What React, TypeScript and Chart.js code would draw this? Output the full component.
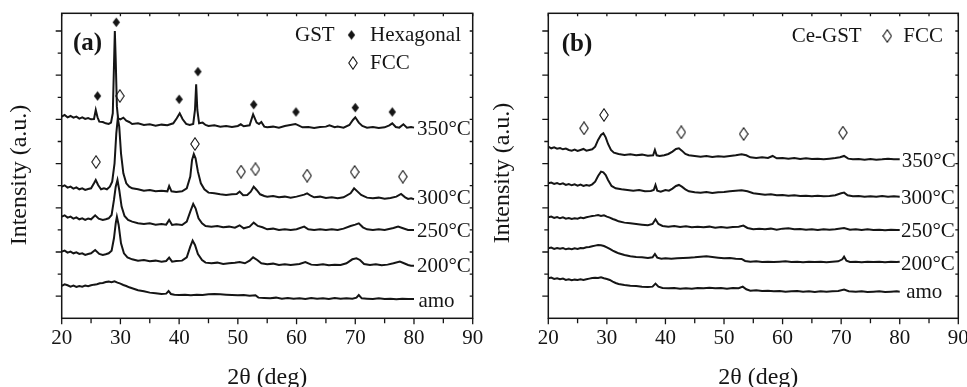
import { useEffect, useRef } from 'react';
import { Chart, registerables } from 'chart.js';

Chart.register(...registerables);

type P = [number, number];

// ---------- axes ----------
const X_MIN = 20;
const X_MAX = 90;
const X_MAJOR = 10;
const X_MINOR = 5;
const Y_MIN = 0;
const Y_MAX = 915;
const Y_STEP = 66.3; // one (minor) tick of intensity, a.u.

const TEMPS = ['amo', '200°C', '250°C', '300°C', '350°C'];

// ---------- (a) GST : [2θ, intensity] ----------
const GST_AMO: P[] = [
  [20, 97], [20.5, 102], [21, 99], [21.5, 95], [22, 98], [22.5, 94], [23, 97], [23.5, 95], [24, 98], [24.5, 96],
  [25, 99], [25.5, 101], [26, 102], [26.5, 105], [27, 106], [27.5, 109], [28, 110], [28.5, 108], [29, 111], [29.5, 107],
  [30, 104], [30.5, 100], [31, 97], [31.5, 93], [32, 90], [32.5, 87], [33, 84], [34, 81], [35, 77], [36, 75],
  [37, 73], [37.8, 74], [38.2, 82], [38.6, 73], [39.2, 71], [40, 70], [41, 71], [42, 69], [43, 71], [44, 70],
  [45, 72], [46, 73], [47, 72], [48, 71], [49, 70], [50, 69], [51, 70], [52, 68], [53, 69], [53.5, 62],
  [54.5, 61], [55.5, 60], [56.5, 62], [57.5, 59], [58.5, 61], [59.5, 59], [60.5, 60], [61.5, 58], [62.5, 61], [63.5, 59],
  [64.5, 60], [65.5, 58], [66.5, 61], [67.5, 59], [68.5, 60], [69.5, 59], [70.2, 62], [70.6, 70], [71.1, 60], [72, 59],
  [73, 58], [74, 60], [75, 58], [76, 59], [77, 57], [78, 59], [79, 58], [80, 58],
];
const GST_200: P[] = [
  [20, 200], [20.5, 203], [21, 197], [21.5, 200], [22, 195], [22.5, 198], [23, 193], [23.5, 195], [24, 190], [24.5, 193],
  [25, 195], [25.7, 205], [26.4, 193], [27, 190], [27.5, 192], [28, 195], [28.5, 203], [28.9, 240], [29.2, 285], [29.4, 305],
  [29.7, 280], [30.1, 225], [30.6, 195], [31.2, 183], [32, 177], [33, 173], [34, 175], [35, 171], [36, 173], [37, 170],
  [37.8, 172], [38.3, 182], [38.8, 170], [39.5, 172], [40.5, 173], [41.3, 183], [41.9, 215], [42.3, 233], [42.7, 220], [43.2, 193],
  [43.9, 175], [44.5, 167], [45.5, 165], [46.5, 167], [47.5, 163], [48.5, 165], [49.5, 167], [50.3, 169], [51.2, 165], [52, 173],
  [52.6, 183], [53.3, 175], [54, 165], [55, 162], [56, 164], [57, 160], [58, 162], [59, 160], [60.5, 163], [61.5, 169],
  [62.5, 161], [63.5, 160], [64.5, 162], [65.5, 159], [66.5, 161], [67.5, 160], [68.5, 165], [69.5, 177], [70.2, 180], [70.8, 175],
  [71.5, 163], [72.5, 160], [73.5, 162], [74.5, 159], [75.5, 161], [76.5, 165], [77.6, 170], [78.3, 165], [79, 160], [79.5, 158], [80, 158],
];
const GST_250: P[] = [
  [20, 305], [20.5, 309], [21, 302], [21.5, 305], [22, 299], [22.5, 303], [23, 297], [23.5, 300], [24, 295], [24.5, 299],
  [25, 297], [25.7, 309], [26.3, 299], [27, 295], [27.5, 297], [28, 300], [28.5, 310], [28.9, 355], [29.2, 395], [29.5, 415],
  [29.8, 385], [30.2, 335], [30.7, 307], [31.3, 295], [32, 290], [33, 285], [34, 283], [35, 285], [36, 281], [37, 283],
  [37.8, 281], [38.3, 295], [38.8, 280], [39.5, 282], [40.5, 280], [41.3, 290], [41.9, 320], [42.4, 343], [42.8, 330], [43.3, 300],
  [43.9, 285], [44.5, 277], [45.5, 275], [46.5, 277], [47.5, 273], [48.5, 275], [49.5, 272], [50.3, 279], [51, 270], [52, 275],
  [52.7, 287], [53.4, 277], [54.2, 273], [55, 267], [56, 269], [57, 265], [58, 267], [59, 265], [60, 267], [61.3, 275],
  [62, 267], [63, 265], [64, 267], [65, 265], [66, 267], [67, 265], [68, 269], [69.2, 277], [70, 281], [70.6, 285],
  [71.3, 273], [72, 267], [73, 265], [74, 267], [75, 265], [76.5, 271], [77.3, 275], [78, 271], [79, 265], [80, 265],
];
const GST_300: P[] = [
  [20, 395], [20.5, 399], [21, 392], [21.5, 395], [22, 389], [22.5, 393], [23, 387], [23.5, 390], [24, 385], [24.5, 388],
  [25, 390], [25.5, 405], [25.8, 415], [26.2, 400], [26.7, 387], [27.2, 390], [27.7, 387], [28.2, 395], [28.6, 410], [29, 465],
  [29.3, 555], [29.55, 600], [29.8, 575], [30.1, 495], [30.5, 435], [31, 405], [31.5, 395], [32, 390], [33, 387], [34, 383],
  [35, 385], [36, 381], [37, 383], [38, 381], [38.3, 397], [38.7, 381], [39.5, 379], [40.5, 381], [41.3, 390], [41.9, 425],
  [42.2, 475], [42.5, 493], [42.8, 480], [43.2, 440], [43.7, 405], [44.3, 387], [45, 377], [46, 375], [47, 372], [48, 370],
  [49, 372], [49.8, 373], [50.3, 380], [50.9, 369], [51.6, 370], [52.2, 380], [52.7, 395], [53.2, 385], [53.8, 372], [54.5, 367],
  [55, 365], [56, 367], [57, 363], [58, 365], [59, 362], [60, 365], [61.3, 371], [61.8, 375], [62.5, 367], [63, 363],
  [64, 365], [65, 361], [66, 363], [67, 360], [68, 363], [69.2, 375], [69.8, 390], [70.4, 380], [71, 370], [72, 362],
  [73, 360], [74, 362], [75, 359], [76, 361], [77, 365], [77.8, 373], [78.5, 363], [79, 358], [79.5, 360], [80, 357],
];
const GST_350: P[] = [
  [20, 605], [20.5, 610], [21, 603], [21.5, 607], [22, 602], [22.5, 605], [23, 599], [23.5, 603], [24, 598], [24.5, 601],
  [25, 597], [25.5, 598], [25.8, 625], [26.1, 603], [26.4, 590], [27, 589], [27.5, 585], [28, 583], [28.4, 587], [28.7, 615],
  [28.9, 755], [29.05, 862], [29.2, 775], [29.4, 635], [29.6, 600], [30, 597], [30.5, 602], [31, 593], [31.5, 589], [32, 583],
  [33, 585], [34, 580], [35, 582], [36, 578], [37, 581], [38, 579], [39, 585], [39.6, 600], [40.1, 615], [40.6, 597],
  [41.2, 583], [41.8, 580], [42.4, 583], [42.7, 625], [42.9, 702], [43.1, 625], [43.4, 585], [44, 587], [44.5, 580], [45, 577],
  [46, 579], [47, 575], [48, 577], [49, 574], [50, 577], [50.5, 582], [51, 576], [52, 579], [52.6, 612], [53.2, 587],
  [53.6, 583], [54, 589], [54.5, 575], [55, 573], [56, 575], [57, 572], [58, 577], [59.8, 583], [60.5, 577], [61, 573],
  [62, 574], [63, 571], [64, 574], [65, 575], [65.6, 579], [66.5, 573], [67, 575], [68, 572], [69, 580], [69.6, 595],
  [70, 603], [70.6, 587], [71.2, 577], [72, 572], [73, 574], [74, 571], [75, 573], [75.8, 579], [76.3, 585], [76.9, 574],
  [77.5, 572], [78.2, 582], [78.8, 572], [79.5, 574], [80, 572],
];
const GST_HEX: P[] = [
  [26.1, 667], [29.3, 888], [40.0, 657], [43.2, 740], [52.7, 641], [59.9, 619], [70.0, 632], [76.3, 619],
];
const GST_FCC: P[] = [
  [29.9, 667], [25.85, 469], [42.7, 523], [50.55, 440], [53.0, 447], [61.8, 428], [69.9, 439], [78.1, 425],
];

// ---------- (b) Ce-GST : [2θ, intensity] ----------
const CE_AMO: P[] = [
  [20, 120], [20.5, 122], [21, 118], [21.5, 120], [22, 117], [22.5, 119], [23, 115], [23.5, 117], [24, 114], [24.5, 116],
  [25, 115], [25.5, 117], [26, 115], [26.5, 117], [27, 119], [27.5, 121], [28, 122], [28.5, 121], [29, 123], [29.5, 120],
  [30, 118], [30.5, 115], [31, 110], [31.5, 106], [32, 103], [33, 100], [34, 98], [35, 97], [36, 95], [37, 94],
  [37.8, 95], [38.3, 104], [38.8, 95], [39.5, 91], [40.5, 90], [41.5, 91], [42.5, 89], [43.5, 90], [44.5, 89], [45.5, 91],
  [46.5, 90], [47.5, 92], [48.5, 90], [49.5, 91], [50.5, 89], [51.5, 91], [52.5, 90], [53.2, 95], [53.8, 87], [54.5, 83],
  [55.5, 84], [56.5, 82], [57.5, 83], [58.5, 81], [59.5, 82], [60.5, 80], [61.5, 81], [62.5, 82], [63.5, 80], [64.5, 81],
  [65.5, 79], [66.5, 81], [67.5, 80], [68.5, 81], [69.5, 82], [70.5, 86], [71.3, 81], [72.5, 80], [73.5, 81], [74.5, 79],
  [75.5, 80], [76.5, 81], [77.5, 79], [78.5, 80], [79.5, 81], [80, 80],
];
const CE_200: P[] = [
  [20, 210], [20.5, 212], [21, 208], [21.5, 211], [22, 209], [22.5, 211], [23, 207], [23.5, 209], [24, 207], [24.5, 210],
  [25, 208], [25.5, 211], [26, 210], [26.5, 213], [27, 214], [27.5, 216], [28, 218], [28.5, 220], [29, 219], [29.5, 217],
  [30, 213], [30.5, 208], [31, 203], [31.5, 199], [32, 195], [33, 190], [34, 186], [35, 184], [36, 183], [37, 181],
  [37.8, 183], [38.2, 193], [38.6, 182], [39.3, 179], [40, 180], [41, 179], [42, 180], [43, 181], [44, 182], [45, 183],
  [46, 185], [47, 186], [48, 184], [49, 182], [50, 180], [51, 181], [52, 179], [53, 178], [53.6, 172], [54.5, 170],
  [55.5, 171], [56.5, 169], [57.5, 170], [58.5, 169], [59.5, 170], [60.5, 171], [61.5, 169], [62.5, 170], [63.5, 168], [64.5, 170],
  [65.5, 169], [66.5, 170], [67.5, 168], [68.5, 170], [69.5, 171], [70.2, 177], [70.5, 185], [70.9, 173], [71.5, 169], [72.5, 170],
  [73.5, 168], [74.5, 170], [75.5, 169], [76.5, 170], [77.5, 168], [78.5, 170], [79.5, 169], [80, 170],
];
const CE_250: P[] = [
  [20, 303], [20.5, 305], [21, 301], [21.5, 304], [22, 300], [22.5, 303], [23, 299], [23.5, 301], [24, 298], [24.5, 300],
  [25, 299], [25.5, 302], [26, 300], [26.5, 303], [27, 305], [27.5, 307], [28, 308], [28.5, 310], [29, 307], [29.5, 309],
  [30, 305], [30.5, 302], [31, 298], [31.5, 295], [32, 291], [33, 287], [34, 285], [35, 283], [36, 281], [37, 279],
  [37.8, 283], [38.3, 297], [38.8, 283], [39.5, 277], [40.5, 275], [41.5, 277], [42.5, 274], [43.5, 276], [44.5, 273], [45.5, 275],
  [46.5, 273], [47.5, 275], [48.5, 272], [49.5, 274], [50.5, 272], [51.5, 274], [52.5, 275], [53.3, 278], [54, 271], [55, 267],
  [56, 269], [57, 267], [58, 269], [59, 266], [60, 269], [61, 270], [62, 267], [63, 268], [64, 266], [65, 267],
  [66, 265], [67, 267], [68, 266], [69, 267], [70.5, 271], [71.5, 266], [72.5, 267], [73.5, 265], [74.5, 267], [75.5, 265],
  [76.5, 266], [77.5, 264], [78.5, 266], [79.5, 265], [80, 265],
];
const CE_300: P[] = [
  [20, 405], [20.5, 407], [21, 403], [21.5, 406], [22, 402], [22.5, 405], [23, 400], [23.5, 403], [24, 399], [24.5, 402],
  [25, 398], [25.5, 401], [26, 397], [26.5, 400], [27, 398], [27.5, 402], [28, 410], [28.5, 427], [29, 440], [29.4, 438],
  [29.8, 430], [30.2, 415], [30.8, 397], [31.5, 390], [32.5, 387], [33.5, 385], [34.5, 383], [35.5, 385], [36.5, 381], [37.5, 382],
  [38, 385], [38.3, 400], [38.6, 383], [39.2, 380], [40, 385], [40.6, 383], [41.2, 389], [41.8, 397], [42.3, 400], [42.8, 395],
  [43.4, 387], [44, 381], [45, 378], [46, 377], [47, 379], [48, 376], [49, 378], [50, 379], [51, 381], [52, 383],
  [53, 384], [54, 381], [55, 375], [56, 373], [57, 371], [58, 372], [59, 369], [60, 370], [61, 368], [62, 369],
  [63, 367], [64, 368], [65, 366], [66, 368], [67, 366], [68, 367], [69, 369], [70, 375], [70.5, 377], [71.1, 369],
  [72, 366], [73, 367], [74, 365], [75, 366], [76, 365], [77, 367], [78, 365], [79, 366], [80, 365],
];
const CE_350: P[] = [
  [20, 515], [20.5, 510], [21, 513], [21.5, 509], [22, 511], [22.5, 507], [23, 509], [23.5, 505], [24, 503], [24.5, 506],
  [25, 502], [25.5, 505], [26, 508], [26.5, 503], [27, 505], [27.5, 507], [28, 515], [28.5, 535], [29, 550], [29.4, 555],
  [29.8, 543], [30.2, 523], [30.7, 505], [31.2, 497], [32, 493], [33, 490], [34, 492], [35, 489], [36, 491], [37, 488],
  [37.9, 489], [38.2, 505], [38.5, 489], [39, 487], [39.8, 489], [40.5, 493], [41.2, 500], [41.8, 508], [42.3, 510], [42.8, 503],
  [43.4, 493], [44, 489], [45, 487], [46, 485], [47, 487], [48, 484], [49, 486], [50, 485], [51, 487], [52, 489],
  [53, 492], [53.8, 489], [54.5, 483], [55.5, 481], [56.5, 483], [57.5, 481], [58.3, 487], [59, 480], [60, 481], [61, 479],
  [62, 481], [63, 478], [64, 480], [65, 478], [66, 479], [67, 477], [68, 479], [69, 481], [69.8, 483], [70.5, 487],
  [71.2, 479], [72, 477], [73, 478], [74, 476], [75, 478], [76, 476], [77, 477], [78, 479], [79, 477], [80, 477],
];
const CE_FCC: P[] = [
  [26.1, 570], [29.5, 610], [42.7, 558], [53.35, 553], [70.3, 557],
];

// ---------- style ----------
const INK = '#151515';
const SERIF = "'Liberation Serif', 'Times New Roman', Times, serif";

function makeDiamond(filled: boolean): HTMLCanvasElement {
  const c = document.createElement('canvas');
  const w = filled ? 9 : 10;
  const h = filled ? 11 : 14;
  c.width = w;
  c.height = h;
  const g = c.getContext('2d')!;
  g.beginPath();
  g.moveTo(w / 2, 0.8);
  g.lineTo(w - 0.8, h / 2);
  g.lineTo(w / 2, h - 0.8);
  g.lineTo(0.8, h / 2);
  g.closePath();
  if (filled) {
    g.fillStyle = INK;
    g.fill();
  } else {
    g.strokeStyle = INK;
    g.lineWidth = 1.1;
    g.stroke();
  }
  return c;
}

interface LegendText { t: string; x: number; y: number; bold?: boolean; size?: number }
interface LegendMark { filled: boolean; x: number; y: number }

interface PanelCfg {
  traces: P[][];
  labelX: number[];
  labelY: number[];
  markers: { pts: P[]; filled: boolean }[];
  texts: LegendText[];
  marks: LegendMark[];
  padLeft: number;
  padRight: number;
  xTitleShift: number;
  yTitleX: number;
  yTitleY: number;
}

function buildChart(canvas: HTMLCanvasElement, cfg: PanelCfg, imgs: { f: HTMLCanvasElement; o: HTMLCanvasElement }) {
  const decor = {
    id: 'decor',
    afterDraw(chart: any) {
      const { ctx, chartArea: ca } = chart;
      const xs = chart.scales.x;
      const ys = chart.scales.y;
      ctx.save();
      ctx.strokeStyle = INK;
      ctx.lineWidth = 1.5;
      ctx.strokeRect(ca.left, ca.top, ca.right - ca.left, ca.bottom - ca.top);
      ctx.lineWidth = 1.3;
      ctx.beginPath();
      for (let v = X_MIN; v <= X_MAX + 1e-6; v += X_MINOR) {
        const px = xs.getPixelForValue(v);
        const maj = Math.abs(v % X_MAJOR) < 1e-6;
        ctx.moveTo(px, ca.bottom);
        ctx.lineTo(px, ca.bottom + (maj ? 6 : 5));
        ctx.moveTo(px, ca.top);
        ctx.lineTo(px, ca.top + 3);
      }
      for (let k = 1; k * Y_STEP < Y_MAX; k++) {
        const py = ys.getPixelForValue(Y_MIN + k * Y_STEP);
        const maj = k % 2 === 1;
        ctx.moveTo(ca.left - (maj ? 6 : 4), py);
        ctx.lineTo(ca.left, py);
        ctx.moveTo(ca.right - 3, py);
        ctx.lineTo(ca.right, py);
      }
      ctx.stroke();

      ctx.fillStyle = INK;
      // series labels
      ctx.font = `21px ${SERIF}`;
      ctx.textAlign = 'left';
      ctx.textBaseline = 'alphabetic';
      TEMPS.forEach((t, i) => {
        ctx.fillText(t, xs.getPixelForValue(cfg.labelX[i]), ys.getPixelForValue(cfg.labelY[i]));
      });
      // legend + panel tag
      ctx.textBaseline = 'middle';
      cfg.texts.forEach((tx) => {
        ctx.font = `${tx.bold ? 'bold ' : ''}${tx.size ?? 21}px ${SERIF}`;
        ctx.fillText(tx.t, tx.x, tx.y);
      });
      cfg.marks.forEach((m) => {
        const img = m.filled ? imgs.f : imgs.o;
        ctx.drawImage(img, m.x - img.width / 2, m.y - img.height / 2);
      });
      // axis titles
      ctx.font = `24px ${SERIF}`;
      ctx.textAlign = 'center';
      ctx.fillText('2θ (deg)', (ca.left + ca.right) / 2 + cfg.xTitleShift, 378);
      ctx.translate(cfg.yTitleX, cfg.yTitleY);
      ctx.rotate(-Math.PI / 2);
      ctx.fillText('Intensity (a.u.)', 0, 0);
      ctx.restore();
    },
  };

  const datasets: any[] = cfg.traces.map((tr) => ({
    data: tr.map(([x, y]) => ({ x, y })),
    showLine: true,
    borderColor: INK,
    borderWidth: 2,
    pointRadius: 0,
    tension: 0,
  }));
  cfg.markers.forEach((m) => {
    datasets.push({
      data: m.pts.map(([x, y]) => ({ x, y })),
      showLine: false,
      pointStyle: m.filled ? imgs.f : imgs.o,
      pointRadius: 4,
      borderWidth: 0,
    });
  });

  return new Chart(canvas, {
    type: 'scatter',
    data: { datasets },
    options: {
      responsive: false,
      animation: false,
      devicePixelRatio: 1,
      events: [],
      layout: { padding: { left: cfg.padLeft, right: cfg.padRight, top: 13.3, bottom: 0 } },
      plugins: { legend: { display: false }, tooltip: { enabled: false } },
      scales: {
        x: {
          type: 'linear',
          min: X_MIN,
          max: X_MAX,
          afterFit: (s: any) => {
            s.height = 68.7;
          },
          grid: { display: false, drawTicks: false },
          border: { display: false },
          ticks: {
            stepSize: X_MAJOR,
            autoSkip: false,
            maxRotation: 0,
            padding: 8,
            color: INK,
            font: { family: SERIF, size: 21 },
          },
        },
        y: { type: 'linear', display: false, min: Y_MIN, max: Y_MAX },
      },
    } as any,
    plugins: [decor],
  });
}

export default function App() {
  const refA = useRef<HTMLCanvasElement>(null);
  const refB = useRef<HTMLCanvasElement>(null);

  useEffect(() => {
    const imgs = { f: makeDiamond(true), o: makeDiamond(false) };
    const a = buildChart(
      refA.current!,
      {
        traces: [GST_AMO, GST_200, GST_250, GST_300, GST_350],
        labelX: [80.75, 80.5, 80.5, 80.5, 80.5],
        labelY: [35, 138, 243, 343, 550],
        markers: [
          { pts: GST_HEX, filled: true },
          { pts: GST_FCC, filled: false },
        ],
        texts: [
          { t: '(a)', x: 73, y: 44, bold: true, size: 25 },
          { t: 'GST', x: 295, y: 35 },
          { t: 'Hexagonal', x: 370, y: 35 },
          { t: 'FCC', x: 370, y: 63 },
        ],
        marks: [
          { filled: true, x: 351.5, y: 35 },
          { filled: false, x: 353, y: 63 },
        ],
        padLeft: 61.7,
        padRight: 500 - 472.7,
        xTitleShift: 0,
        yTitleX: 20,
        yTitleY: 175,
      },
      imgs,
    );
    const b = buildChart(
      refB.current!,
      {
        traces: [CE_AMO, CE_200, CE_250, CE_300, CE_350],
        labelX: [81.1, 80.2, 80.2, 80.2, 80.35],
        labelY: [60, 145, 245, 343, 453],
        markers: [{ pts: CE_FCC, filled: false }],
        texts: [
          { t: '(b)', x: 78.7, y: 45, bold: true, size: 25 },
          { t: 'Ce-GST', x: 308.7, y: 36 },
          { t: 'FCC', x: 420.3, y: 36 },
        ],
        marks: [{ filled: false, x: 404.3, y: 36 }],
        padLeft: 65.3,
        padRight: 500 - 475.3,
        xTitleShift: 5,
        yTitleX: 20,
        yTitleY: 173,
      },
      imgs,
    );
    return () => {
      a.destroy();
      b.destroy();
    };
  }, []);

  return (
    <div
      style={{
        position: 'absolute',
        left: 0,
        top: 0,
        width: 967,
        height: 387,
        overflow: 'hidden',
        background: '#ffffff',
      }}
    >
      <canvas
        ref={refA}
        width={500}
        height={387}
        style={{ position: 'absolute', left: 0, top: 0, width: 500, height: 387 }}
      />
      <canvas
        ref={refB}
        width={500}
        height={387}
        style={{ position: 'absolute', left: 483, top: 0, width: 500, height: 387 }}
      />
    </div>
  );
}
